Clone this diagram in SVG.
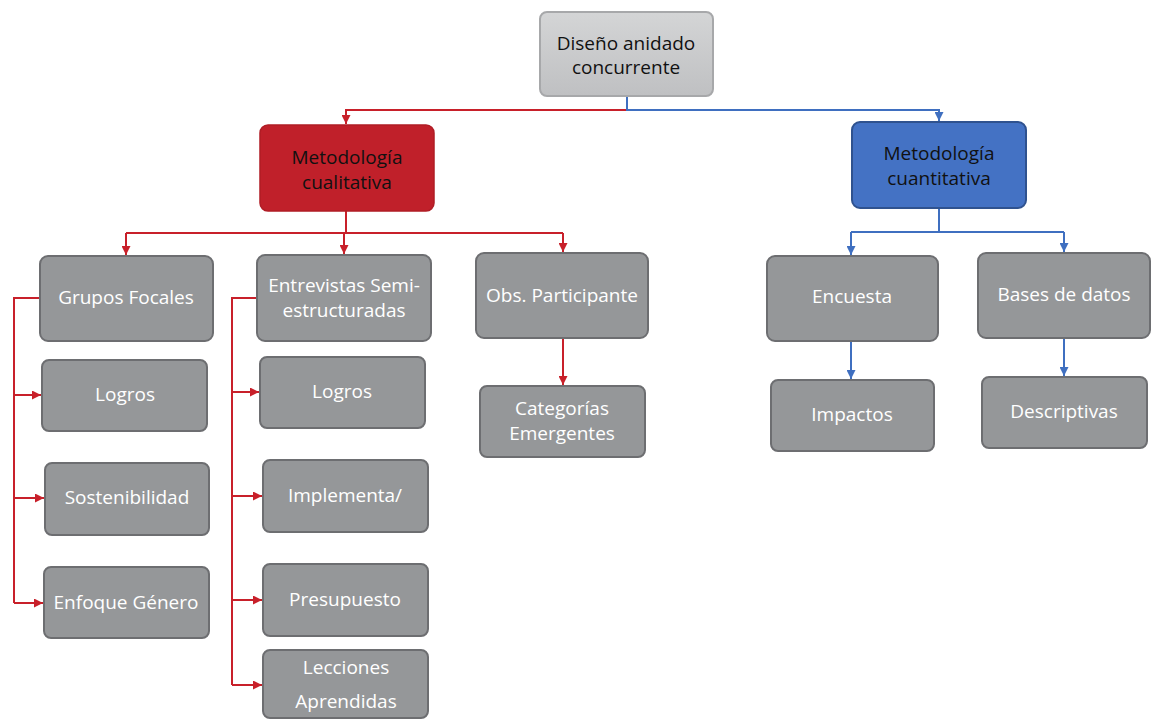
<svg xmlns="http://www.w3.org/2000/svg" width="1152" height="720" viewBox="0 0 1152 720">
<defs>
<linearGradient id="gTop" x1="0" y1="0" x2="0" y2="1"><stop offset="0" stop-color="#d4d5d6"/><stop offset="1" stop-color="#bfc0c2"/></linearGradient>
<marker id="aR" viewBox="0 0 10 10" refX="10" refY="5" markerWidth="9" markerHeight="9" markerUnits="userSpaceOnUse" orient="auto"><path d="M0,0 L10,5 L0,10 Z" fill="#c8202a"/></marker>
<marker id="aB" viewBox="0 0 10 10" refX="10" refY="5" markerWidth="9" markerHeight="9" markerUnits="userSpaceOnUse" orient="auto"><path d="M0,0 L10,5 L0,10 Z" fill="#3f6fc0"/></marker>
</defs>
<style>
.box{fill:#959799;stroke:#6d6e71;stroke-width:2}
.t{font-family:"Open Sans","Liberation Sans",sans-serif;font-size:19px;fill:#ffffff;text-anchor:middle}
.d{fill:#111111;font-size:19px}
.r{fill:none;stroke:#c8202a;stroke-width:2}
.b{fill:none;stroke:#3f6fc0;stroke-width:2}
</style>
<rect width="1152" height="720" fill="#ffffff"/>
<g id="connectors">
<path class="r" d="M627,96 V110 H346 V124" marker-end="url(#aR)"/>
<path class="b" d="M627,96 V110 H939 V121" marker-end="url(#aB)"/>
<path class="r" d="M346,211 V233"/>
<path class="r" d="M126,233 H563"/>
<path class="r" d="M126,233 V255" marker-end="url(#aR)"/>
<path class="r" d="M344,233 V254" marker-end="url(#aR)"/>
<path class="r" d="M563,233 V252" marker-end="url(#aR)"/>
<path class="r" d="M563,338 V385" marker-end="url(#aR)"/>
<path class="r" d="M40,298 H14 V603"/>
<path class="r" d="M14,395 H41" marker-end="url(#aR)"/>
<path class="r" d="M14,498 H44" marker-end="url(#aR)"/>
<path class="r" d="M14,603 H43" marker-end="url(#aR)"/>
<path class="r" d="M257,298 H232 V685"/>
<path class="r" d="M232,392 H259" marker-end="url(#aR)"/>
<path class="r" d="M232,496 H262" marker-end="url(#aR)"/>
<path class="r" d="M232,600 H262" marker-end="url(#aR)"/>
<path class="r" d="M232,685 H262" marker-end="url(#aR)"/>
<path class="b" d="M939,208 V232"/>
<path class="b" d="M851,232 H1064"/>
<path class="b" d="M851,232 V255" marker-end="url(#aB)"/>
<path class="b" d="M1064,232 V252" marker-end="url(#aB)"/>
<path class="b" d="M851,341 V379" marker-end="url(#aB)"/>
<path class="b" d="M1064,338 V376" marker-end="url(#aB)"/>
</g>
<g id="n-top"><rect x="540" y="12" width="173" height="84" rx="7" fill="url(#gTop)" stroke="#a7a8aa" stroke-width="2"/><text class="t d" x="626" y="50">Diseño anidado</text><text class="t d" x="626" y="74">concurrente</text></g>
<g id="n-cual"><rect x="260" y="125" width="174" height="86" rx="8" fill="#c0202a" stroke="#b01c25" stroke-width="1.5"/><text class="t d" x="347" y="164">Metodología</text><text class="t d" x="347" y="189">cualitativa</text></g>
<g id="n-cuan"><rect x="852" y="122" width="174" height="86" rx="8" fill="#4472c4" stroke="#2f528f" stroke-width="2"/><text class="t d" x="939" y="160">Metodología</text><text class="t d" x="939" y="185">cuantitativa</text></g>
<g id="n-gf"><rect class="box" x="40" y="256" width="173" height="85" rx="8"/><text class="t" x="126" y="304">Grupos Focales</text></g>
<g id="n-ent"><rect class="box" x="257" y="255" width="174" height="86" rx="8"/><text class="t" x="344" y="292">Entrevistas Semi-</text><text class="t" x="344" y="317">estructuradas</text></g>
<g id="n-obs"><rect class="box" x="476" y="253" width="172" height="85" rx="8"/><text class="t" x="562" y="302">Obs. Participante</text></g>
<g id="n-cat"><rect class="box" x="480" y="386" width="165" height="71" rx="7"/><text class="t" x="562" y="415">Categorías</text><text class="t" x="562" y="440">Emergentes</text></g>
<g id="n-gf-logros"><rect class="box" x="42" y="360" width="165" height="71" rx="7"/><text class="t" x="125" y="401">Logros</text></g>
<g id="n-sost"><rect class="box" x="45" y="463" width="164" height="72" rx="7"/><text class="t" x="127" y="504">Sostenibilidad</text></g>
<g id="n-enf"><rect class="box" x="44" y="567" width="165" height="71" rx="7"/><text class="t" x="126" y="609">Enfoque Género</text></g>
<g id="n-e-logros"><rect class="box" x="260" y="357" width="165" height="71" rx="7"/><text class="t" x="342" y="398">Logros</text></g>
<g id="n-impl"><rect class="box" x="263" y="460" width="165" height="72" rx="7"/><text class="t" x="345" y="502">Implementa/</text></g>
<g id="n-pres"><rect class="box" x="263" y="564" width="165" height="72" rx="7"/><text class="t" x="345" y="606">Presupuesto</text></g>
<g id="n-lecc"><rect class="box" x="263" y="650" width="165" height="68" rx="7"/><text class="t" x="346" y="674">Lecciones</text><text class="t" x="346" y="708">Aprendidas</text></g>
<g id="n-enc"><rect class="box" x="767" y="256" width="171" height="85" rx="8"/><text class="t" x="852" y="303">Encuesta</text></g>
<g id="n-bases"><rect class="box" x="978" y="253" width="172" height="85" rx="8"/><text class="t" x="1064" y="301">Bases de datos</text></g>
<g id="n-imp"><rect class="box" x="771" y="380" width="163" height="71" rx="7"/><text class="t" x="852" y="421">Impactos</text></g>
<g id="n-desc"><rect class="box" x="982" y="377" width="165" height="71" rx="7"/><text class="t" x="1064" y="418">Descriptivas</text></g>
</svg>
